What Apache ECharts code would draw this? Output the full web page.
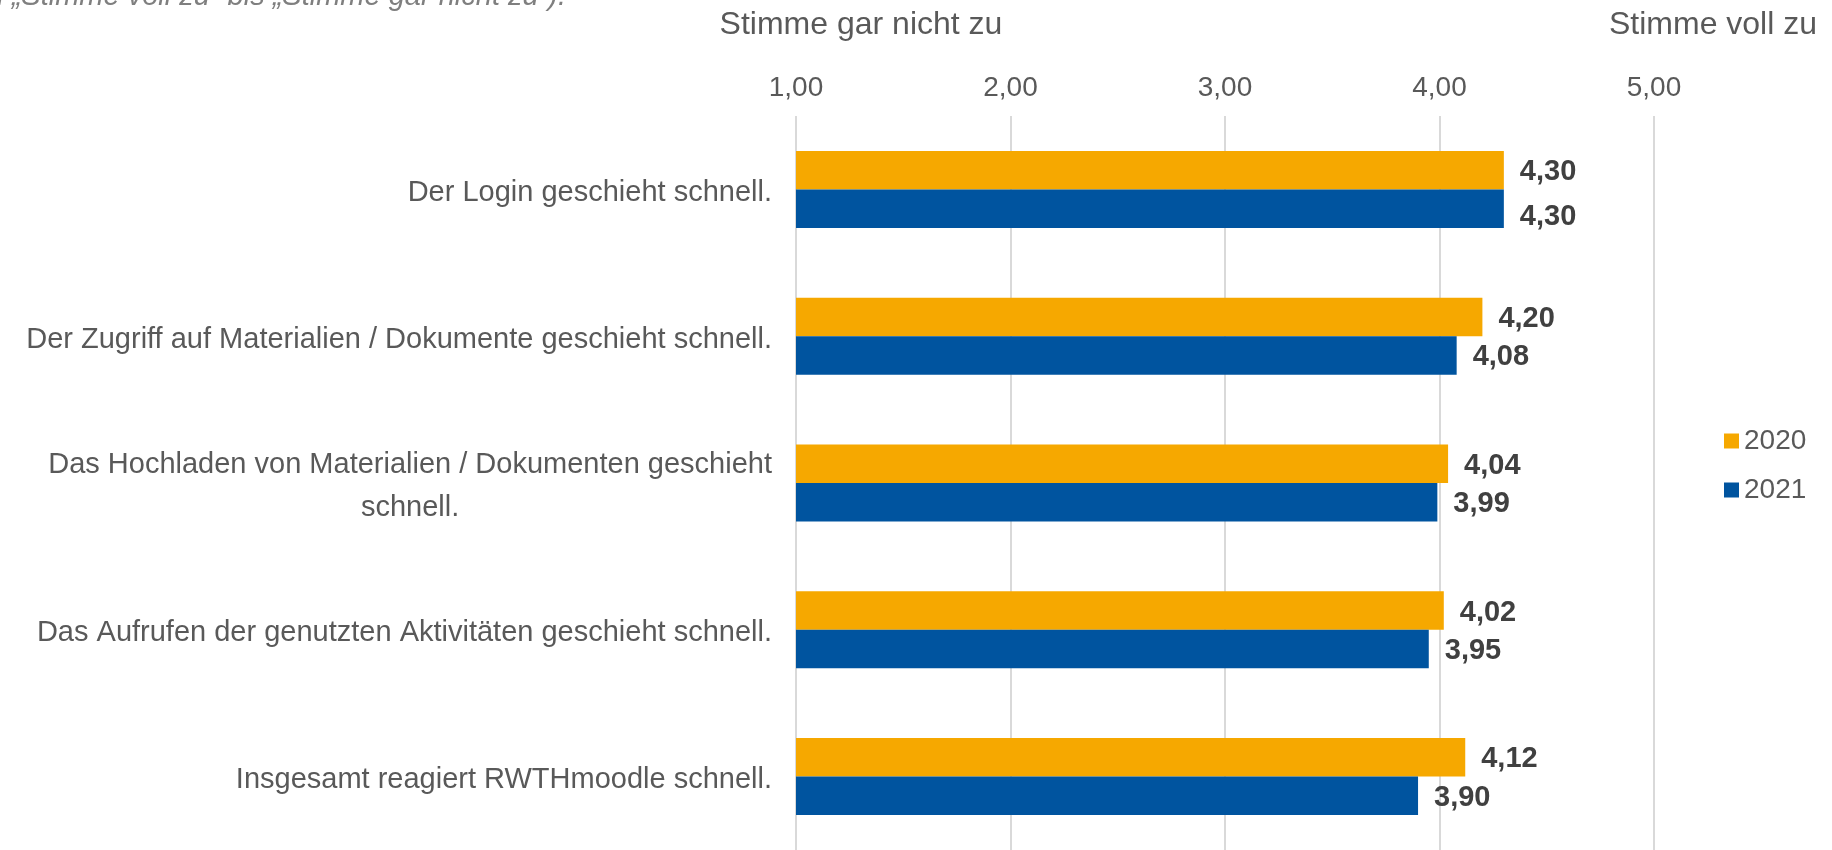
<!DOCTYPE html>
<html>
<head>
<meta charset="utf-8">
<script src="https://cdn.jsdelivr.net/npm/echarts@6/dist/echarts.min.js"></script>
<style>
  html, body { margin: 0; padding: 0; background: #fff; }
  #chart { width: 1832px; height: 850px; }
</style>
</head>
<body>
<div id="chart"></div>
<script>
// Kategorien (von oben nach unten)
const categories = [
    'Der Login geschieht schnell.',
    'Der Zugriff auf Materialien / Dokumente geschieht schnell.',
    'Das Hochladen von Materialien / Dokumenten geschieht\nschnell.',
    'Das Aufrufen der genutzten Aktivitäten geschieht schnell.',
    'Insgesamt reagiert RWTHmoodle schnell.'
];
const seriesNames = ['2020', '2021'];
const values2020 = [4.30, 4.20, 4.04, 4.02, 4.12];
const values2021 = [4.30, 4.08, 3.99, 3.95, 3.90];
const scaleLabelLeft = 'Stimme gar nicht zu';
const scaleLabelRight = 'Stimme voll zu';
const noteText = '(von \u201EStimme voll zu\u201C bis \u201EStimme gar nicht zu\u201C).';

const FONT = '"Liberation Sans", Arial, sans-serif';
const GREY = '#595959';

// Komma als Dezimaltrenner
function deNum(v) {
    return Number(v).toFixed(2).replace('.', ',');
}

function barLabel() {
    return {
        show: true,
        position: 'right',
        distance: 16,
        offset: [0, 2],
        fontSize: 29,
        fontWeight: 'bold',
        color: '#404040',
        formatter: function (p) { return deNum(p.value); }
    };
}

const chart = echarts.init(document.getElementById('chart'));

const option = {
    animation: false,
    textStyle: { fontFamily: FONT },
    grid: { left: 796, right: 178, top: 116, height: 738 },
    legend: {
        data: seriesNames,
        orient: 'vertical',
        left: 1724,
        top: 427,
        padding: 0,
        icon: 'rect',
        itemWidth: 15,
        itemHeight: 15,
        itemGap: 21,
        textStyle: { fontSize: 28, color: GREY, fontFamily: FONT }
    },
    xAxis: {
        type: 'value',
        position: 'top',
        min: 1,
        max: 5,
        interval: 1,
        axisLine: { show: false },
        axisTick: { show: false },
        axisLabel: {
            fontSize: 28,
            color: GREY,
            margin: 14,
            formatter: deNum
        },
        splitLine: { lineStyle: { color: '#d9d9d9', width: 2 } }
    },
    yAxis: {
        type: 'category',
        inverse: true,
        data: categories,
        axisLine: { show: false },
        axisTick: { show: false },
        axisLabel: {
            fontSize: 29,
            color: GREY,
            margin: 24,
            lineHeight: 43,
            padding: [7, 0, 0, 0],
            // mehrzeilige Beschriftung zentriert
            formatter: function (v) {
                if (v.indexOf('\n') < 0) return v;
                return v.split('\n').map(function (l) { return '{c|' + l + '}'; }).join('\n');
            },
            rich: {
                c: { align: 'center', fontSize: 29, color: GREY, lineHeight: 43, fontFamily: FONT }
            }
        }
    },
    series: [
        {
            name: seriesNames[0],
            type: 'bar',
            data: values2020,
            barWidth: 38.5,
            barGap: '0%',
            itemStyle: { color: '#F6A800' },
            label: barLabel()
        },
        {
            name: seriesNames[1],
            type: 'bar',
            // beim ersten Balkenpaar rückt die Beschriftung etwas nach unten
            data: values2021.map(function (v, i) {
                return i === 0 ? { value: v, label: { offset: [0, 8] } } : v;
            }),
            barWidth: 38.5,
            barGap: '0%',
            itemStyle: { color: '#00549F' },
            label: barLabel()
        }
    ],
    graphic: [
        {
            type: 'text',
            x: 566, y: 11,
            style: {
                text: noteText,
                font: 'italic 29px ' + FONT,
                fill: '#7f7f7f',
                textAlign: 'right', textVerticalAlign: 'bottom',
                align: 'right', verticalAlign: 'bottom'
            }
        },
        {
            type: 'text',
            x: 861, y: 25,
            style: {
                text: scaleLabelLeft,
                font: '32px ' + FONT,
                fill: GREY,
                textAlign: 'center', textVerticalAlign: 'middle',
                align: 'center', verticalAlign: 'middle'
            }
        },
        {
            type: 'text',
            x: 1713, y: 25,
            style: {
                text: scaleLabelRight,
                font: '32px ' + FONT,
                fill: GREY,
                textAlign: 'center', textVerticalAlign: 'middle',
                align: 'center', verticalAlign: 'middle'
            }
        }
    ]
};

chart.setOption(option);
</script>
</body>
</html>
